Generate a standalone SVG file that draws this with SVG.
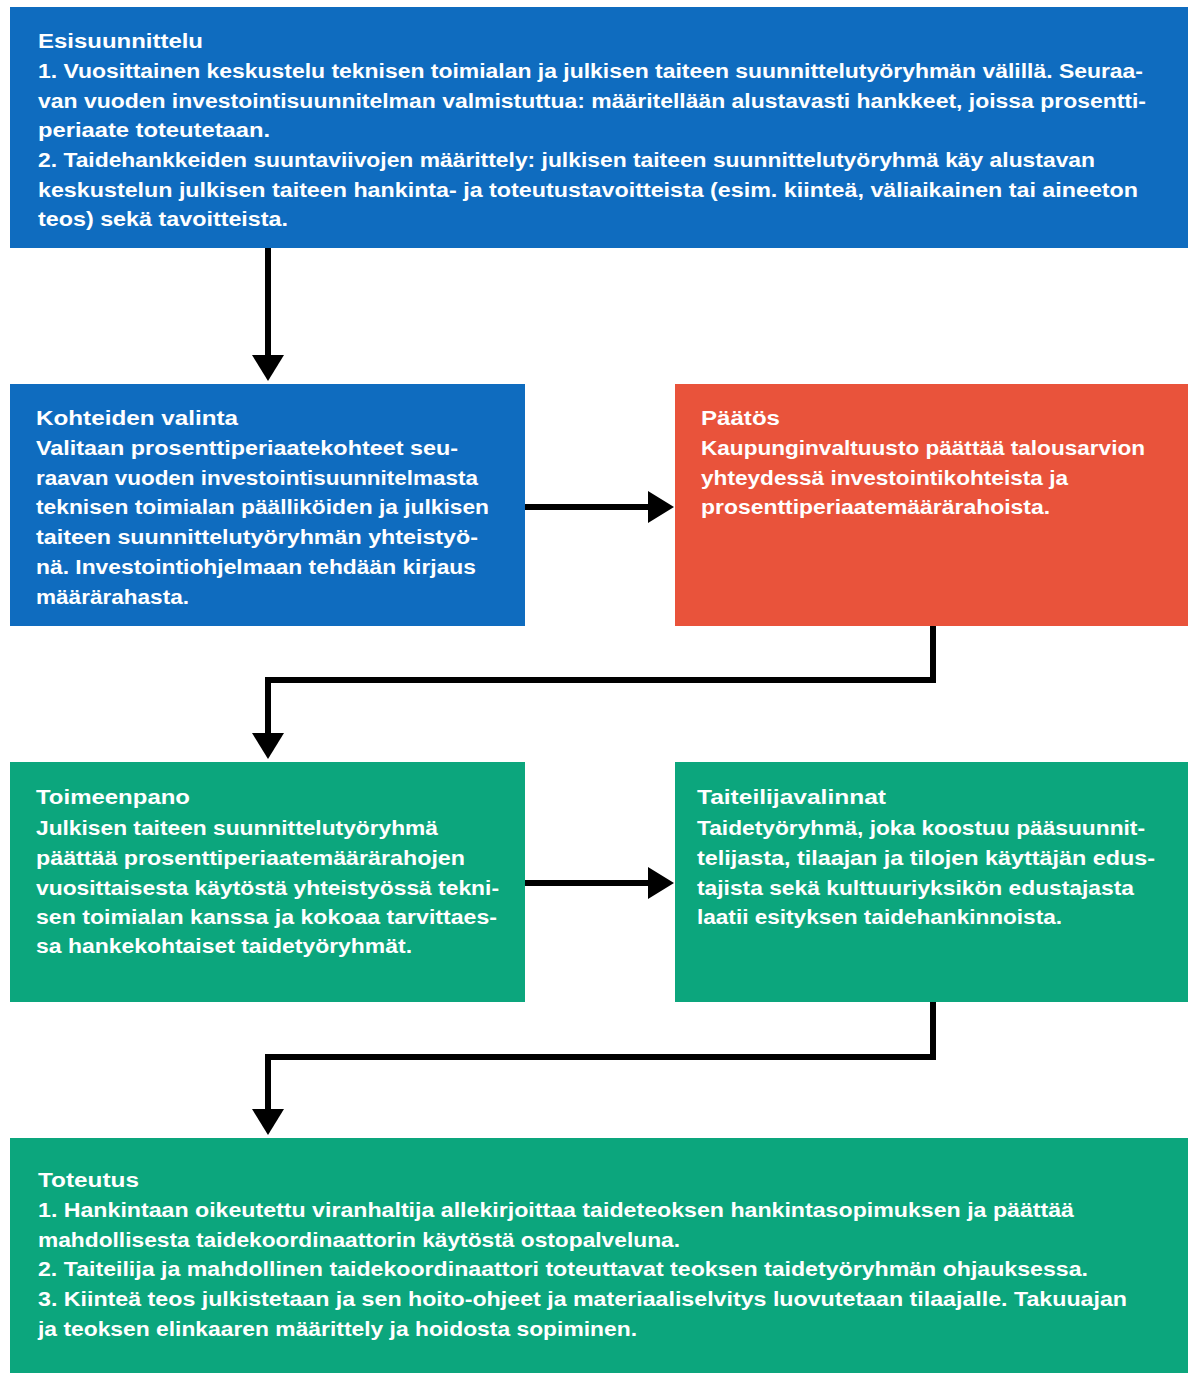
<svg xmlns="http://www.w3.org/2000/svg" width="1188" height="1373" viewBox="0 0 1188 1373">
<style>
.blue{fill:#0f6cbf}
.red{fill:#e9533b}
.green{fill:#0ca67d}
text{font-family:"Liberation Sans","DejaVu Sans",sans-serif;font-size:20px;font-weight:bold;fill:#ffffff}
.conn{fill:none;stroke:#000;stroke-width:6}
</style>
<defs>
<marker id="ah" markerUnits="userSpaceOnUse" markerWidth="32" markerHeight="36" refX="2" refY="16" orient="auto" viewBox="0 0 32 32">
<path d="M0,0 L26,16 L0,32 Z" fill="#000"/>
</marker>
</defs>
<rect width="1188" height="1373" fill="#ffffff"/>
<g id="connectors">
<path class="conn" d="M268,248 V357" marker-end="url(#ah)"/>
<path class="conn" d="M525,507 H650" marker-end="url(#ah)"/>
<path class="conn" d="M933,626 V680 H268 V735" marker-end="url(#ah)"/>
<path class="conn" d="M525,883 H650" marker-end="url(#ah)"/>
<path class="conn" d="M933,1002 V1057 H268 V1111" marker-end="url(#ah)"/>
</g>
<g id="esisuunnittelu">
<rect class="blue" x="10" y="7" width="1178" height="241"/>
<text x="38" y="48" textLength="165" lengthAdjust="spacingAndGlyphs">Esisuunnittelu</text>
<text x="38" y="78" textLength="1105" lengthAdjust="spacingAndGlyphs">1. Vuosittainen keskustelu teknisen toimialan ja julkisen taiteen suunnittelutyöryhmän välillä. Seuraa-</text>
<text x="38" y="108" textLength="1108" lengthAdjust="spacingAndGlyphs">van vuoden investointisuunnitelman valmistuttua: määritellään alustavasti hankkeet, joissa prosentti-</text>
<text x="38" y="137" textLength="232" lengthAdjust="spacingAndGlyphs">periaate toteutetaan.</text>
<text x="38" y="167" textLength="1057" lengthAdjust="spacingAndGlyphs">2. Taidehankkeiden suuntaviivojen määrittely: julkisen taiteen suunnittelutyöryhmä käy alustavan</text>
<text x="38" y="197" textLength="1100" lengthAdjust="spacingAndGlyphs">keskustelun julkisen taiteen hankinta- ja toteutustavoitteista (esim. kiinteä, väliaikainen tai aineeton</text>
<text x="38" y="226" textLength="250" lengthAdjust="spacingAndGlyphs">teos) sekä tavoitteista.</text>
</g>
<g id="kohteiden-valinta">
<rect class="blue" x="10" y="384" width="515" height="242"/>
<text x="36" y="425" textLength="202" lengthAdjust="spacingAndGlyphs">Kohteiden valinta</text>
<text x="36" y="455" textLength="422" lengthAdjust="spacingAndGlyphs">Valitaan prosenttiperiaatekohteet seu-</text>
<text x="36" y="485" textLength="442" lengthAdjust="spacingAndGlyphs">raavan vuoden investointisuunnitelmasta</text>
<text x="36" y="514" textLength="453" lengthAdjust="spacingAndGlyphs">teknisen toimialan päälliköiden ja julkisen</text>
<text x="36" y="544" textLength="442" lengthAdjust="spacingAndGlyphs">taiteen suunnittelutyöryhmän yhteistyö-</text>
<text x="36" y="574" textLength="440" lengthAdjust="spacingAndGlyphs">nä. Investointiohjelmaan tehdään kirjaus</text>
<text x="36" y="604" textLength="153" lengthAdjust="spacingAndGlyphs">määrärahasta.</text>
</g>
<g id="paatos">
<rect class="red" x="675" y="384" width="513" height="242"/>
<text x="701" y="425" textLength="79" lengthAdjust="spacingAndGlyphs">Päätös</text>
<text x="701" y="455" textLength="444" lengthAdjust="spacingAndGlyphs">Kaupunginvaltuusto päättää talousarvion</text>
<text x="701" y="485" textLength="367" lengthAdjust="spacingAndGlyphs">yhteydessä investointikohteista ja</text>
<text x="701" y="514" textLength="349" lengthAdjust="spacingAndGlyphs">prosenttiperiaatemäärärahoista.</text>
</g>
<g id="toimeenpano">
<rect class="green" x="10" y="762" width="515" height="240"/>
<text x="36" y="804" textLength="154" lengthAdjust="spacingAndGlyphs">Toimeenpano</text>
<text x="36" y="835" textLength="402" lengthAdjust="spacingAndGlyphs">Julkisen taiteen suunnittelutyöryhmä</text>
<text x="36" y="865" textLength="429" lengthAdjust="spacingAndGlyphs">päättää prosenttiperiaatemäärärahojen</text>
<text x="36" y="895" textLength="463" lengthAdjust="spacingAndGlyphs">vuosittaisesta käytöstä yhteistyössä tekni-</text>
<text x="36" y="924" textLength="461" lengthAdjust="spacingAndGlyphs">sen toimialan kanssa ja kokoaa tarvittaes-</text>
<text x="36" y="953" textLength="376" lengthAdjust="spacingAndGlyphs">sa hankekohtaiset taidetyöryhmät.</text>
</g>
<g id="taiteilijavalinnat">
<rect class="green" x="675" y="762" width="513" height="240"/>
<text x="697" y="804" textLength="189" lengthAdjust="spacingAndGlyphs">Taiteilijavalinnat</text>
<text x="697" y="835" textLength="448" lengthAdjust="spacingAndGlyphs">Taidetyöryhmä, joka koostuu pääsuunnit-</text>
<text x="697" y="865" textLength="458" lengthAdjust="spacingAndGlyphs">telijasta, tilaajan ja tilojen käyttäjän edus-</text>
<text x="697" y="895" textLength="437" lengthAdjust="spacingAndGlyphs">tajista sekä kulttuuriyksikön edustajasta</text>
<text x="697" y="924" textLength="365" lengthAdjust="spacingAndGlyphs">laatii esityksen taidehankinnoista.</text>
</g>
<g id="toteutus">
<rect class="green" x="10" y="1138" width="1178" height="235"/>
<text x="38" y="1187" textLength="101" lengthAdjust="spacingAndGlyphs">Toteutus</text>
<text x="38" y="1217" textLength="1036" lengthAdjust="spacingAndGlyphs">1. Hankintaan oikeutettu viranhaltija allekirjoittaa taideteoksen hankintasopimuksen ja päättää</text>
<text x="38" y="1247" textLength="642" lengthAdjust="spacingAndGlyphs">mahdollisesta taidekoordinaattorin käytöstä ostopalveluna.</text>
<text x="38" y="1276" textLength="1050" lengthAdjust="spacingAndGlyphs">2. Taiteilija ja mahdollinen taidekoordinaattori toteuttavat teoksen taidetyöryhmän ohjauksessa.</text>
<text x="38" y="1306" textLength="1089" lengthAdjust="spacingAndGlyphs">3. Kiinteä teos julkistetaan ja sen hoito-ohjeet ja materiaaliselvitys luovutetaan tilaajalle. Takuuajan</text>
<text x="38" y="1336" textLength="599" lengthAdjust="spacingAndGlyphs">ja teoksen elinkaaren määrittely ja hoidosta sopiminen.</text>
</g>
</svg>
